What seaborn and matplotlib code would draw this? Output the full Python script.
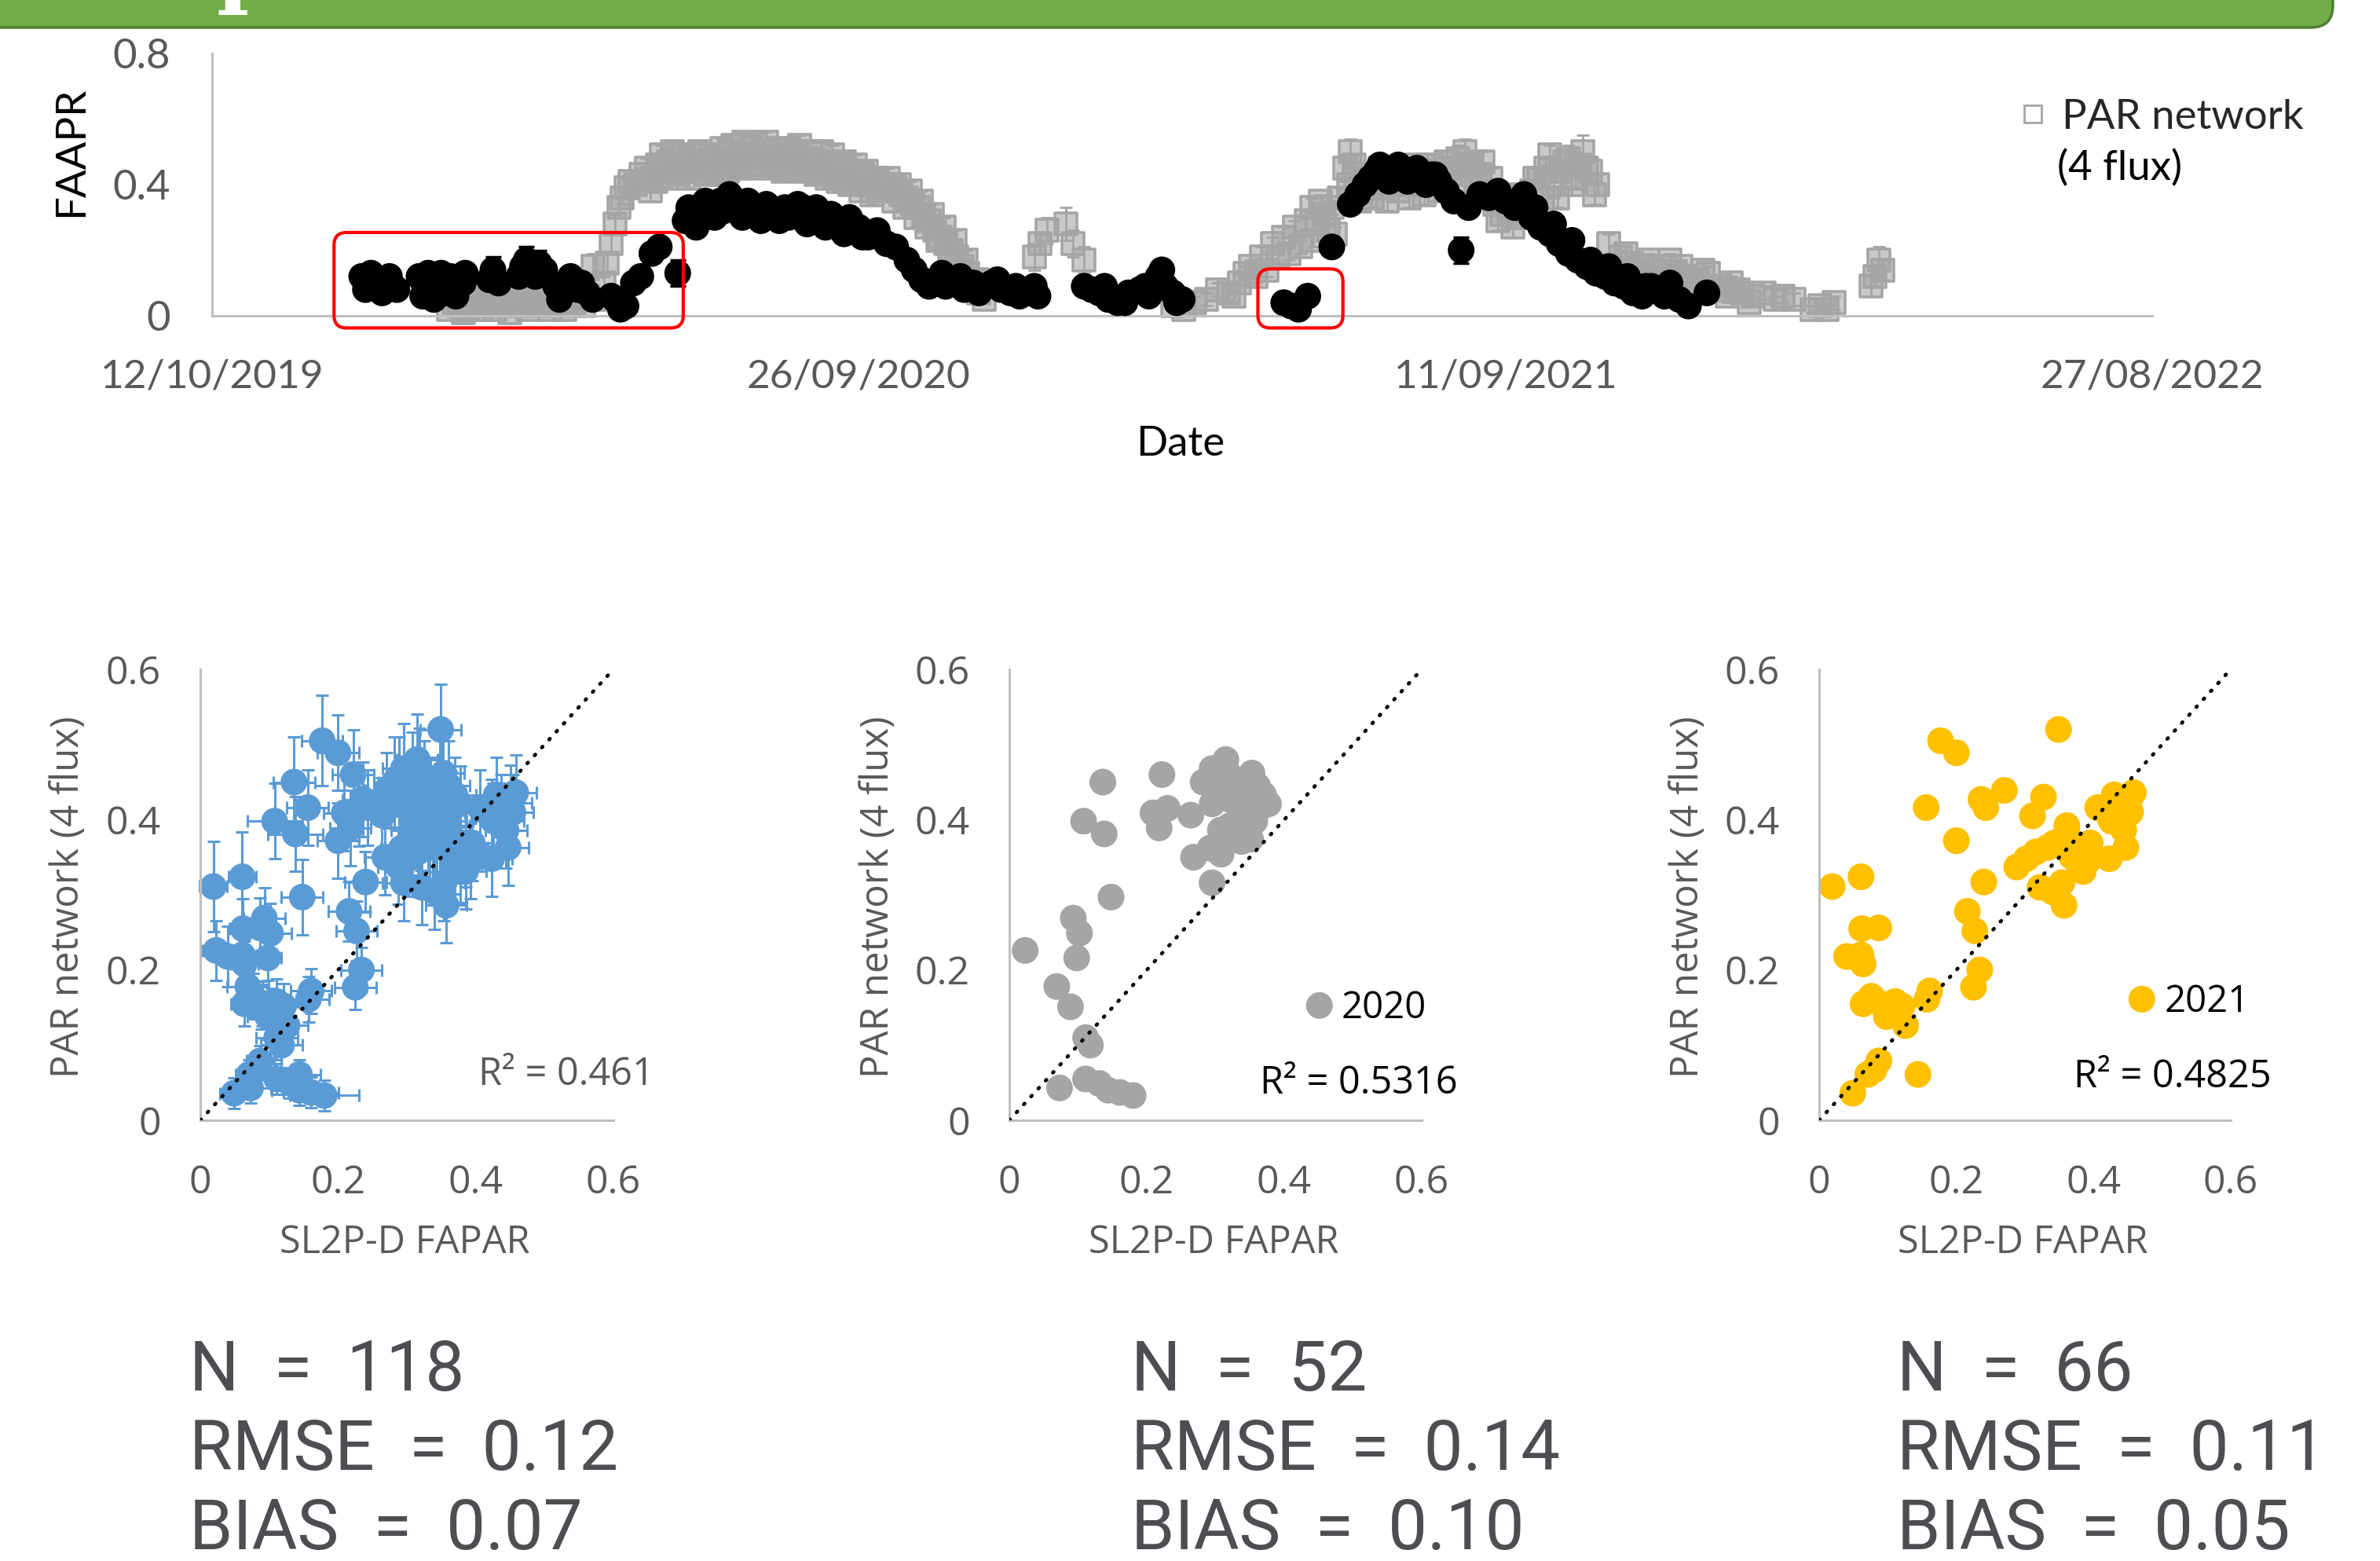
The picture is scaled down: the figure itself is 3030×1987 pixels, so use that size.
import numpy as np
import pandas as pd
import matplotlib
matplotlib.use("Agg")
import matplotlib.pyplot as plt
import matplotlib.dates as mdates
from matplotlib.patches import FancyBboxPatch
from matplotlib.transforms import IdentityTransform
from matplotlib.lines import Line2D
from matplotlib.colors import to_rgba
import seaborn as sns

# ---------------------------------------------------------------- data
START = "2019-10-12"

# PAR network (4 flux) time series: days since START, FAPAR, error
par_days = [128, 133, 138, 143, 148, 153, 158, 163, 168, 173, 178, 183, 188, 193, 198, 203,
            206, 209, 212, 214, 216, 218, 220, 222, 224, 226, 229, 232, 235,
            238, 241, 244, 247, 250, 253, 256, 259, 262, 265, 268, 271, 274, 277, 280, 283, 286,
            289, 292, 295, 298, 301, 304, 307, 310, 313, 316, 319, 322, 325, 328, 331, 334, 337,
            340, 343, 346, 349, 352, 355, 358, 361,
            364, 367, 370, 373, 376, 379, 382, 385, 388, 391, 394, 397, 400, 403, 406, 409, 412, 415, 418,
            445, 448, 452, 462, 466, 472,
            520, 526, 532, 538, 544, 550, 556, 562, 565, 568, 574, 577, 580, 586, 589, 592, 595, 598, 602, 604, 606, 610,
            613, 616, 619, 622, 626, 630, 634, 638, 642, 646, 650, 654, 658, 662, 666, 670, 674, 678,
            682, 686, 690, 694, 698, 702, 706, 710, 714, 718, 722, 726, 730, 734, 738, 742, 746, 750,
            756, 762, 768, 774, 780, 786, 792, 798, 804, 810, 816, 820, 822, 826, 828, 832, 834, 840, 846, 850, 856,
            866, 870, 874, 878, 898, 900, 902, 904,
            131, 136, 141, 146, 151, 156, 161, 166, 171, 176, 181, 186, 191, 196, 201,
            237, 240, 243, 246, 249, 252, 255, 258, 261, 264, 267, 270,
            273, 276, 279, 282, 285, 288, 291, 294, 297, 300, 303, 306,
            309, 312, 315, 318, 321, 324, 327, 330, 333, 336, 339, 342,
            345, 348, 351, 354, 357, 360,
            366, 369, 372, 375, 378, 381, 384, 387, 390, 393, 396, 399, 402, 405, 408, 411, 414,
            553, 559, 571, 583, 596, 600, 608,
            615, 618, 621, 624, 628, 632, 636, 640, 644, 648, 652, 656, 660, 664, 668, 672, 676, 680,
            684, 688, 692, 696, 700, 704, 708, 712, 716, 720, 724, 728, 732, 736, 740, 744, 748,
            759, 765, 771, 777, 783, 789, 795, 801, 807, 813]
par_vals = [0.02, 0.03, 0.02, 0.04, 0.03, 0.02, 0.04, 0.03, 0.05, 0.03, 0.04, 0.02, 0.04, 0.03, 0.05, 0.06,
            0.15, 0.05, 0.10, 0.16, 0.22, 0.28, 0.33, 0.36, 0.39, 0.41, 0.40, 0.43, 0.45,
            0.42, 0.46, 0.44, 0.47, 0.45, 0.48, 0.44, 0.46, 0.49, 0.45, 0.47, 0.44, 0.48, 0.46, 0.50, 0.47, 0.45,
            0.49, 0.51, 0.48, 0.46, 0.50, 0.48, 0.45, 0.49, 0.47, 0.50, 0.46, 0.48, 0.45, 0.47, 0.44, 0.46, 0.43,
            0.45, 0.42, 0.44, 0.41, 0.43, 0.40, 0.41, 0.38,
            0.40, 0.38, 0.39, 0.37, 0.36, 0.34, 0.33, 0.31, 0.29, 0.26, 0.24, 0.22, 0.20, 0.18, 0.15, 0.13, 0.10, 0.07, 0.05,
            0.18, 0.22, 0.26, 0.28, 0.22, 0.17,
            0.03, 0.02, 0.04, 0.05, 0.08, 0.07, 0.10, 0.15, 0.12, 0.18, 0.22, 0.18, 0.24, 0.27, 0.21, 0.29, 0.33, 0.28, 0.31, 0.26, 0.33, 0.36,
            0.45, 0.50, 0.42, 0.38, 0.40, 0.42, 0.39, 0.41, 0.38, 0.40, 0.43, 0.40, 0.42, 0.44, 0.41, 0.45, 0.48, 0.50,
            0.46, 0.43, 0.38, 0.34, 0.31, 0.33, 0.30, 0.34, 0.38, 0.42, 0.45, 0.40, 0.44, 0.48, 0.42, 0.50, 0.44, 0.40,
            0.22, 0.18, 0.16, 0.15, 0.14, 0.15, 0.13, 0.12, 0.11, 0.13, 0.09, 0.06, 0.10, 0.08, 0.07, 0.04, 0.06, 0.07, 0.05, 0.06, 0.05,
            0.02, 0.03, 0.02, 0.04, 0.09, 0.12, 0.17, 0.14,
            0.04, 0.01, 0.05, 0.02, 0.04, 0.05, 0.01, 0.04, 0.02, 0.05, 0.03, 0.05, 0.02, 0.04, 0.03,
            0.38, 0.41, 0.49, 0.42, 0.50, 0.43, 0.49, 0.42, 0.45, 0.50, 0.43, 0.49,
            0.43, 0.51, 0.44, 0.52, 0.45, 0.53, 0.46, 0.52, 0.45, 0.53, 0.46, 0.51,
            0.44, 0.51, 0.45, 0.52, 0.44, 0.50, 0.43, 0.50, 0.42, 0.49, 0.41, 0.47,
            0.40, 0.46, 0.38, 0.44, 0.37, 0.42,
            0.42, 0.35, 0.40, 0.33, 0.38, 0.30, 0.35, 0.27, 0.31, 0.23, 0.27, 0.19, 0.23, 0.14, 0.17, 0.08, 0.11,
            0.06, 0.13, 0.14, 0.19, 0.23, 0.35, 0.25,
            0.40, 0.46, 0.35, 0.43, 0.36, 0.45, 0.35, 0.44, 0.42, 0.36, 0.46, 0.37, 0.46, 0.38, 0.47, 0.40, 0.43, 0.46,
            0.40, 0.47, 0.42, 0.29, 0.36, 0.27, 0.37, 0.30, 0.42, 0.36, 0.49, 0.36, 0.47, 0.40, 0.46, 0.45, 0.37,
            0.13, 0.19, 0.13, 0.17, 0.12, 0.17, 0.15, 0.10, 0.14, 0.08]
par_err = [0.01, 0.01, 0.01, 0.02, 0.01, 0.01, 0.01, 0.02, 0.02, 0.01, 0.02, 0.01, 0.01, 0.02, 0.02, 0.01,
           0.04, 0.02, 0.02, 0.03, 0.03, 0.03, 0.03, 0.02, 0.03, 0.02, 0.03, 0.02, 0.03,
           0.02, 0.03, 0.02, 0.04, 0.02, 0.03, 0.02, 0.03, 0.02, 0.03, 0.02, 0.04, 0.02, 0.03, 0.03, 0.02, 0.03,
           0.02, 0.04, 0.02, 0.03, 0.02, 0.03, 0.02, 0.03, 0.02, 0.03, 0.02, 0.03, 0.02, 0.04, 0.02, 0.03, 0.02,
           0.03, 0.02, 0.04, 0.02, 0.03, 0.02, 0.03, 0.02,
           0.03, 0.02, 0.03, 0.02, 0.03, 0.02, 0.03, 0.02, 0.03, 0.02, 0.03, 0.02, 0.03, 0.02, 0.02, 0.02, 0.02, 0.02, 0.01,
           0.04, 0.03, 0.04, 0.05, 0.04, 0.04,
           0.01, 0.01, 0.02, 0.02, 0.02, 0.02, 0.03, 0.02, 0.02, 0.03, 0.02, 0.02, 0.03, 0.02, 0.02, 0.03, 0.03, 0.02, 0.03, 0.02, 0.02, 0.03,
           0.04, 0.04, 0.03, 0.02, 0.03, 0.02, 0.03, 0.02, 0.03, 0.02, 0.03, 0.02, 0.03, 0.02, 0.03, 0.03, 0.04, 0.04,
           0.03, 0.03, 0.03, 0.02, 0.03, 0.02, 0.03, 0.02, 0.03, 0.03, 0.03, 0.04, 0.03, 0.04, 0.03, 0.05, 0.04, 0.03,
           0.03, 0.02, 0.02, 0.02, 0.02, 0.02, 0.02, 0.02, 0.02, 0.02, 0.02, 0.02, 0.02, 0.02, 0.02, 0.01, 0.02, 0.02, 0.01, 0.02, 0.02,
           0.01, 0.01, 0.01, 0.02, 0.03, 0.03, 0.04, 0.03,
           0.01, 0.01, 0.01, 0.01, 0.01, 0.01, 0.01, 0.01, 0.01, 0.01, 0.01, 0.01, 0.01, 0.01, 0.01,
           0.03, 0.03, 0.03, 0.03, 0.03, 0.03, 0.03, 0.03, 0.03, 0.03, 0.03, 0.03,
           0.03, 0.03, 0.03, 0.03, 0.03, 0.03, 0.03, 0.03, 0.03, 0.03, 0.03, 0.03,
           0.03, 0.03, 0.03, 0.03, 0.03, 0.03, 0.03, 0.03, 0.03, 0.03, 0.03, 0.03,
           0.03, 0.03, 0.03, 0.03, 0.03, 0.03,
           0.03, 0.03, 0.03, 0.03, 0.03, 0.03, 0.03, 0.03, 0.03, 0.03, 0.03, 0.03, 0.03, 0.03, 0.03, 0.03, 0.03,
           0.02, 0.02, 0.02, 0.02, 0.02, 0.02, 0.02,
           0.03, 0.03, 0.03, 0.03, 0.03, 0.03, 0.03, 0.03, 0.03, 0.03, 0.03, 0.03, 0.03, 0.03, 0.03, 0.03, 0.03, 0.03,
           0.03, 0.03, 0.03, 0.03, 0.03, 0.03, 0.03, 0.03, 0.03, 0.03, 0.03, 0.03, 0.03, 0.03, 0.03, 0.03, 0.03,
           0.02, 0.02, 0.02, 0.02, 0.02, 0.02, 0.02, 0.02, 0.02, 0.02]

# SL2P-D time series: days since START, FAPAR, error
sl2p_days = [81, 84, 87, 90, 94, 98,
             112, 115, 118, 121, 124, 127, 130, 134, 137,
             152, 155, 168, 172, 177, 186, 190, 194, 198, 203,
             218, 221, 228, 238, 242, 252,
             256, 260, 265, 270, 275, 280, 285, 290, 295, 300,
             305, 310, 315, 320, 325, 330, 335, 340, 345, 350,
             355, 360, 365, 370, 376, 380, 384, 388, 392, 397,
             402, 407, 412, 417, 422, 427, 432, 437, 442, 447,
             472, 476, 480, 485, 490, 496, 502, 507, 512, 516,
             520, 525, 580, 584, 588, 593,
             606, 616, 620, 624, 630, 635, 640, 645, 650, 655,
             660, 664, 668, 672, 676, 680, 686, 691, 696, 700,
             705, 710, 714, 719, 724, 729, 734, 739, 744, 749,
             754, 759, 764, 769, 774, 779, 784, 789, 794, 799,
             809,
             83, 86, 92, 96, 100, 114, 117, 120, 126, 129, 132, 136,
             150, 166, 170, 175, 180, 188, 192, 200, 206, 216, 224, 232,
             258, 262, 267, 272, 277, 282, 287, 292, 297, 302,
             307, 312, 317, 322, 327, 332, 337, 342, 347, 352,
             395, 405, 415, 425, 435, 445, 483, 494, 505, 514, 522,
             627, 632, 637, 642, 647, 652, 657, 662,
             716, 726, 736, 746, 756, 766, 776, 786]
sl2p_vals = [0.12, 0.11, 0.10, 0.09, 0.10, 0.09,
             0.12, 0.09, 0.07, 0.11, 0.13, 0.10, 0.09, 0.12, 0.13,
             0.14, 0.10, 0.15, 0.13, 0.16, 0.09, 0.07, 0.12, 0.08, 0.07,
             0.05, 0.02, 0.10, 0.19, 0.21, 0.13,
             0.29, 0.31, 0.30, 0.34, 0.35, 0.37, 0.34, 0.35, 0.33, 0.34,
             0.32, 0.33, 0.31, 0.33, 0.30, 0.29, 0.31, 0.28, 0.30, 0.27,
             0.24, 0.26, 0.22, 0.21, 0.17, 0.14, 0.11, 0.09, 0.10, 0.09,
             0.11, 0.08, 0.10, 0.09, 0.10, 0.08, 0.07, 0.06, 0.07, 0.06,
             0.09, 0.08, 0.07, 0.05, 0.04, 0.07, 0.08, 0.06, 0.12, 0.09,
             0.07, 0.05, 0.04, 0.03, 0.02, 0.06,
             0.21, 0.34, 0.37, 0.40, 0.44, 0.45, 0.44, 0.43, 0.44, 0.42,
             0.43, 0.41, 0.38, 0.35, 0.20, 0.33, 0.37, 0.36, 0.38, 0.35,
             0.33, 0.37, 0.30, 0.27, 0.25, 0.22, 0.19, 0.17, 0.15, 0.13,
             0.12, 0.10, 0.09, 0.07, 0.06, 0.09, 0.08, 0.10, 0.05, 0.03,
             0.07,
             0.08, 0.13, 0.07, 0.12, 0.08, 0.06, 0.13, 0.05, 0.07, 0.12, 0.06, 0.10,
             0.11, 0.12, 0.17, 0.12, 0.14, 0.05, 0.10, 0.10, 0.05, 0.06, 0.03, 0.12,
             0.33, 0.27, 0.35, 0.30, 0.32, 0.34, 0.30, 0.32, 0.29, 0.31,
             0.29, 0.30, 0.34, 0.28, 0.33, 0.27, 0.28, 0.25, 0.27, 0.24,
             0.13, 0.12, 0.07, 0.11, 0.09, 0.09, 0.09, 0.04, 0.09, 0.14, 0.04,
             0.42, 0.46, 0.41, 0.46, 0.41, 0.45, 0.40, 0.43,
             0.33, 0.28, 0.23, 0.17, 0.15, 0.12, 0.09, 0.06]
sl2p_err = [0.02, 0.02, 0.02, 0.02, 0.02, 0.02,
            0.02, 0.02, 0.02, 0.02, 0.02, 0.02, 0.02, 0.02, 0.02,
            0.04, 0.02, 0.03, 0.02, 0.04, 0.02, 0.02, 0.03, 0.02, 0.02,
            0.02, 0.02, 0.02, 0.02, 0.02, 0.04,
            0.02, 0.02, 0.02, 0.02, 0.02, 0.02, 0.02, 0.02, 0.02, 0.02,
            0.02, 0.02, 0.02, 0.02, 0.02, 0.02, 0.02, 0.02, 0.02, 0.02,
            0.02, 0.02, 0.02, 0.02, 0.02, 0.02, 0.02, 0.02, 0.02, 0.02,
            0.02, 0.02, 0.02, 0.02, 0.02, 0.02, 0.02, 0.02, 0.02, 0.02,
            0.02, 0.02, 0.02, 0.02, 0.02, 0.02, 0.02, 0.02, 0.03, 0.02,
            0.02, 0.02, 0.02, 0.02, 0.02, 0.02,
            0.02, 0.02, 0.02, 0.02, 0.02, 0.02, 0.02, 0.02, 0.02, 0.02,
            0.02, 0.02, 0.02, 0.02, 0.04, 0.02, 0.02, 0.02, 0.03, 0.02,
            0.02, 0.03, 0.02, 0.02, 0.02, 0.02, 0.02, 0.02, 0.02, 0.02,
            0.02, 0.02, 0.02, 0.02, 0.02, 0.02, 0.02, 0.02, 0.02, 0.02,
            0.02,
            0.02, 0.02, 0.02, 0.02, 0.02, 0.02, 0.02, 0.02, 0.02, 0.02, 0.02, 0.02,
            0.02, 0.02, 0.04, 0.02, 0.02, 0.02, 0.02, 0.02, 0.02, 0.02, 0.02, 0.02,
            0.02, 0.02, 0.02, 0.02, 0.02, 0.02, 0.02, 0.02, 0.02, 0.02,
            0.02, 0.02, 0.02, 0.02, 0.02, 0.02, 0.02, 0.02, 0.02, 0.02,
            0.02, 0.02, 0.02, 0.02, 0.02, 0.02, 0.02, 0.02, 0.02, 0.03, 0.02,
            0.02, 0.02, 0.02, 0.02, 0.02, 0.02, 0.02, 0.02,
            0.02, 0.02, 0.02, 0.02, 0.02, 0.02, 0.02, 0.02]

top_tick_dates = ["2019-10-12", "2020-09-26", "2021-09-11", "2022-08-27"]
top_tick_labels = ["12/10/2019", "26/09/2020", "11/09/2021", "27/08/2022"]
top_y_ticks = [0, 0.4, 0.8]
top_y_labels = ["0", "0.4", "0.8"]

# highlighted periods (red boxes): start date, end date, low, high
box_starts = ["2019-12-17", "2021-04-30"]
box_ends = ["2020-06-23", "2021-06-15"]
box_lows = [-0.037, -0.037]
box_highs = [0.254, 0.143]

# Scatter: SL2P-D FAPAR vs PAR network, 2020
fapar_2020 = [0.023, 0.069, 0.089, 0.093, 0.102, 0.098, 0.108, 0.138, 0.136, 0.148,
              0.111, 0.118, 0.073, 0.111, 0.131, 0.144, 0.161, 0.180, 0.222, 0.209,
              0.230, 0.218, 0.264, 0.268, 0.295, 0.292, 0.308, 0.307, 0.321, 0.338,
              0.351, 0.289, 0.295, 0.315, 0.308, 0.325, 0.334, 0.353, 0.361, 0.370,
              0.377, 0.354, 0.321, 0.302, 0.282, 0.341, 0.364, 0.318, 0.348, 0.295,
              0.357, 0.331]
par_2020 = [0.226, 0.178, 0.151, 0.269, 0.249, 0.216, 0.398, 0.381, 0.450, 0.297,
            0.110, 0.100, 0.043, 0.055, 0.049, 0.040, 0.037, 0.033, 0.460, 0.409,
            0.415, 0.389, 0.406, 0.350, 0.316, 0.362, 0.354, 0.386, 0.392, 0.371,
            0.374, 0.450, 0.468, 0.480, 0.456, 0.445, 0.433, 0.462, 0.445, 0.433,
            0.421, 0.409, 0.427, 0.433, 0.450, 0.415, 0.415, 0.462, 0.450, 0.421,
            0.398, 0.380]
yerr_2020 = [0.04, 0.03, 0.03, 0.04, 0.04, 0.03, 0.05, 0.05, 0.06, 0.05,
             0.03, 0.03, 0.02, 0.02, 0.02, 0.02, 0.02, 0.02, 0.06, 0.05,
             0.05, 0.05, 0.05, 0.05, 0.05, 0.05, 0.05, 0.06, 0.06, 0.05,
             0.05, 0.06, 0.06, 0.06, 0.06, 0.06, 0.05, 0.06, 0.06, 0.05,
             0.05, 0.05, 0.05, 0.05, 0.06, 0.05, 0.05, 0.06, 0.06, 0.05,
             0.05, 0.05]
xerr_2020 = [0.02, 0.03, 0.02, 0.03, 0.03, 0.02, 0.04, 0.04, 0.03, 0.03,
             0.03, 0.03, 0.03, 0.03, 0.03, 0.04, 0.04, 0.05, 0.03, 0.03,
             0.03, 0.03, 0.03, 0.03, 0.03, 0.03, 0.03, 0.03, 0.03, 0.03,
             0.03, 0.03, 0.03, 0.03, 0.03, 0.03, 0.03, 0.03, 0.03, 0.03,
             0.03, 0.03, 0.03, 0.03, 0.03, 0.03, 0.03, 0.03, 0.03, 0.03,
             0.03, 0.03]

# Scatter: 2021
fapar_2021 = [0.019, 0.061, 0.062, 0.087, 0.040, 0.061, 0.064, 0.064, 0.076, 0.090,
              0.104, 0.098, 0.111, 0.121, 0.126, 0.049, 0.071, 0.080, 0.087, 0.144,
              0.157, 0.161, 0.156, 0.177, 0.200, 0.200, 0.216, 0.227, 0.234, 0.225,
              0.236, 0.243, 0.240, 0.270, 0.288, 0.302, 0.311, 0.316, 0.327, 0.322,
              0.333, 0.343, 0.349, 0.357, 0.354, 0.361, 0.361, 0.368, 0.378, 0.385,
              0.395, 0.392, 0.406, 0.423, 0.426, 0.430, 0.437, 0.444, 0.447, 0.451,
              0.458, 0.440, 0.340, 0.385, 0.423, 0.454]
par_2021 = [0.311, 0.324, 0.255, 0.256, 0.218, 0.220, 0.208, 0.155, 0.165, 0.155,
            0.146, 0.138, 0.158, 0.152, 0.126, 0.036, 0.061, 0.067, 0.079, 0.061,
            0.161, 0.172, 0.416, 0.505, 0.489, 0.372, 0.278, 0.252, 0.200, 0.177,
            0.427, 0.416, 0.317, 0.439, 0.337, 0.348, 0.405, 0.357, 0.430, 0.310,
            0.363, 0.369, 0.520, 0.286, 0.316, 0.386, 0.392, 0.351, 0.340, 0.331,
            0.369, 0.345, 0.416, 0.348, 0.398, 0.433, 0.410, 0.386, 0.363, 0.422,
            0.436, 0.398, 0.304, 0.360, 0.404, 0.410]
yerr_2021 = [0.06, 0.06, 0.04, 0.04, 0.04, 0.04, 0.03, 0.03, 0.03, 0.03,
             0.03, 0.03, 0.03, 0.03, 0.03, 0.02, 0.02, 0.02, 0.02, 0.02,
             0.03, 0.03, 0.05, 0.06, 0.05, 0.05, 0.04, 0.04, 0.03, 0.03,
             0.05, 0.05, 0.04, 0.05, 0.05, 0.05, 0.05, 0.05, 0.05, 0.05,
             0.05, 0.05, 0.06, 0.05, 0.05, 0.05, 0.05, 0.05, 0.05, 0.05,
             0.05, 0.05, 0.05, 0.05, 0.05, 0.05, 0.05, 0.05, 0.05, 0.05,
             0.05, 0.05, 0.05, 0.05, 0.05, 0.05]
xerr_2021 = [0.02, 0.02, 0.02, 0.02, 0.02, 0.02, 0.02, 0.02, 0.02, 0.03,
             0.03, 0.03, 0.03, 0.03, 0.03, 0.02, 0.02, 0.02, 0.02, 0.03,
             0.03, 0.03, 0.03, 0.03, 0.03, 0.03, 0.03, 0.03, 0.03, 0.03,
             0.03, 0.03, 0.03, 0.03, 0.03, 0.03, 0.03, 0.03, 0.03, 0.03,
             0.03, 0.03, 0.03, 0.03, 0.03, 0.03, 0.03, 0.03, 0.03, 0.03,
             0.03, 0.03, 0.03, 0.03, 0.03, 0.03, 0.03, 0.03, 0.03, 0.03,
             0.03, 0.03, 0.03, 0.03, 0.03, 0.03]

scatter_ticks = [0, 0.2, 0.4, 0.6]
scatter_tick_labels = ["0", "0.2", "0.4", "0.6"]
r2_labels = ["R² = 0.461", "R² = 0.5316", "R² = 0.4825"]
year_labels = [None, "2020", "2021"]
stat_n = ["N  =  118", "N  =  52", "N  =  66"]
stat_rmse = ["RMSE  =  0.12", "RMSE  =  0.14", "RMSE  =  0.11"]
stat_bias = ["BIAS  =  0.07", "BIAS  =  0.10", "BIAS  =  0.05"]

# ---------------------------------------------------------------- style
sns.set_style("white")
plt.rcParams["font.family"] = ["Open Sans", "DejaVu Sans"]

W, H, DPI = 3030, 1987, 100
fig = plt.figure(figsize=(W / DPI, H / DPI), dpi=DPI)

GREY = "#A5A5A5"
BLUE = "#5B9BD5"
GOLD = "#FFC000"
TXT = "#595959"
SPINE = "#BFBFBF"


def px_axes(left, top, right, bottom):
    return fig.add_axes([left / W, 1 - bottom / H, (right - left) / W, (bottom - top) / H])


# green banner
banner = FancyBboxPatch((-100, H - 35), 3070, 300,
                        boxstyle="round,pad=0,rounding_size=28",
                        transform=IdentityTransform(), fc="#70AD47", ec="#507E32", lw=2.5, zorder=1)
fig.add_artist(banner)
fig.text(276 / W, 1 + 4 / H, "p", family="DejaVu Serif", fontweight="bold", fontsize=80,
         color="white", va="baseline", ha="left", zorder=5)

# ---------------------------------------------------------------- top time series
ax = px_axes(270, 68, 2740, 402)
start = pd.Timestamp(START)
par_df = pd.DataFrame({"date": start + pd.to_timedelta(par_days, unit="D"),
                       "fapar": par_vals, "err": par_err})
sl2p_df = pd.DataFrame({"date": start + pd.to_timedelta(sl2p_days, unit="D"),
                        "fapar": sl2p_vals, "err": sl2p_err})

ax.errorbar(par_df["date"], par_df["fapar"], yerr=par_df["err"], fmt="none", ecolor=GREY,
            elinewidth=2, capsize=6, capthick=2, zorder=1, clip_on=False)
sns.scatterplot(data=par_df, x="date", y="fapar", ax=ax, marker="s", s=420, color=GREY,
                facecolors=[to_rgba(GREY, 0.6)], edgecolor=GREY, linewidth=2.6, zorder=2,
                clip_on=False, legend=False)
ax.errorbar(sl2p_df["date"], sl2p_df["fapar"], yerr=sl2p_df["err"], fmt="none", ecolor="black",
            elinewidth=2.2, capsize=7, capthick=2.5, zorder=3, clip_on=False)
sns.scatterplot(data=sl2p_df, x="date", y="fapar", ax=ax, marker="o", s=600, color="black",
                edgecolor="none", linewidth=0, zorder=4, clip_on=False, legend=False)

ax.set_xlim(pd.Timestamp(top_tick_dates[0]), pd.Timestamp(top_tick_dates[-1]))
ax.set_ylim(0, 0.8)
ax.set_xticks([pd.Timestamp(d) for d in top_tick_dates])
ax.set_xticklabels(top_tick_labels, fontfamily="Lato", fontsize=37, color=TXT)
ax.set_yticks(top_y_ticks)
ax.set_yticklabels(top_y_labels, fontfamily="Lato", fontsize=38, color=TXT)
ax.tick_params(axis="x", length=0, pad=39)
ax.tick_params(axis="y", length=0, pad=38)
for s in ["top", "right"]:
    ax.spines[s].set_visible(False)
for s in ["left", "bottom"]:
    ax.spines[s].set_color(SPINE)
    ax.spines[s].set_linewidth(2.2)
ax.set_xlabel("Date", fontfamily="Lato", fontsize=38, color="black")
ax.xaxis.set_label_coords(0.499, -0.49)
ax.xaxis.label.set_va("center")
ax.set_ylabel("FAAPR", fontfamily="Lato", fontsize=38, color="black")
ax.yaxis.set_label_coords(-0.0725, 0.626)
ax.yaxis.label.set_va("center")

leg_handle = Line2D([], [], marker="s", ls="none", mfc="none", mec=GREY, mew=2.0, ms=16)
ax.legend([leg_handle], ["PAR network"], loc="center left", bbox_to_anchor=(0.930, 0.757),
          frameon=False, prop={"family": "Lato", "size": 38}, handletextpad=0.3,
          borderaxespad=0, borderpad=0, handlelength=0.8)
ax.text(0.951, 0.562, "(4 flux)", transform=ax.transAxes, fontfamily="Lato", fontsize=38,
        color="black", va="center", ha="left")

# red highlight boxes
for d0, d1, lo, hi in zip(box_starts, box_ends, box_lows, box_highs):
    x0, y0 = ax.transData.transform((mdates.date2num(pd.Timestamp(d0)), lo))
    x1, y1 = ax.transData.transform((mdates.date2num(pd.Timestamp(d1)), hi))
    rect = FancyBboxPatch((x0, y0), x1 - x0, y1 - y0, boxstyle="round,pad=0,rounding_size=16",
                          transform=IdentityTransform(), fill=False, ec="#FF0000", lw=3, zorder=10)
    fig.add_artist(rect)

# ---------------------------------------------------------------- scatter panels
panels = [
    dict(box=(255, 852, 781, 1426), x=fapar_2020 + fapar_2021, y=par_2020 + par_2021,
         xerr=xerr_2020 + xerr_2021, yerr=yerr_2020 + yerr_2021, color=BLUE,
         r2=r2_labels[0], r2_xy=(1.099, 0.101), r2_color=TXT, label=year_labels[0], leg=None),
    dict(box=(1285, 852, 1810, 1426), x=fapar_2020, y=par_2020, xerr=None, yerr=None,
         color=GREY, r2=r2_labels[1], r2_xy=(1.086, 0.081), r2_color="black",
         label=year_labels[1], leg=(0.707, 0.248)),
    dict(box=(2316, 852, 2840, 1426), x=fapar_2021, y=par_2021, xerr=None, yerr=None,
         color=GOLD, r2=r2_labels[2], r2_xy=(1.099, 0.095), r2_color="black",
         label=year_labels[2], leg=(0.739, 0.262)),
]

for p in panels:
    sax = px_axes(*p["box"])
    df = pd.DataFrame({"fapar": p["x"], "par": p["y"]})
    if p["xerr"] is not None:
        sax.errorbar(df["fapar"], df["par"], xerr=p["xerr"], yerr=p["yerr"], fmt="none",
                     ecolor=p["color"], elinewidth=2.2, capsize=6, capthick=2.2, zorder=1,
                     clip_on=False)
    sns.scatterplot(data=df, x="fapar", y="par", ax=sax, color=p["color"], s=600,
                    edgecolor="none", linewidth=0, zorder=2, clip_on=False,
                    label=p["label"], legend=p["label"] is not None)
    sax.plot([scatter_ticks[0], scatter_ticks[-1]], [scatter_ticks[0], scatter_ticks[-1]],
             color="black", lw=3.4, ls=(0, (0.3, 2.6)), dash_capstyle="round", zorder=5)
    sax.set_xlim(0, 0.6)
    sax.set_ylim(0, 0.6)
    sax.set_xticks(scatter_ticks)
    sax.set_xticklabels(scatter_tick_labels, fontsize=36, color=TXT)
    sax.set_yticks(scatter_ticks)
    sax.set_yticklabels(scatter_tick_labels, fontsize=36, color=TXT)
    sax.tick_params(axis="x", length=0, pad=40)
    sax.tick_params(axis="y", length=0, pad=36)
    for s in ["top", "right"]:
        sax.spines[s].set_visible(False)
    for s in ["left", "bottom"]:
        sax.spines[s].set_color(SPINE)
        sax.spines[s].set_linewidth(2.2)
    sax.set_xlabel("SL2P-D FAPAR", fontsize=35, color=TXT)
    sax.xaxis.set_label_coords(0.495, -0.272)
    sax.xaxis.label.set_va("center")
    sax.set_ylabel("PAR network (4 flux)", fontsize=35.5, color=TXT)
    sax.yaxis.set_label_coords(-0.318, 0.495)
    sax.yaxis.label.set_va("center")
    sax.text(p["r2_xy"][0], p["r2_xy"][1], p["r2"], transform=sax.transAxes, fontsize=35,
             color=p["r2_color"], ha="right", va="center")
    if p["leg"] is not None:
        sax.legend(loc="center left", bbox_to_anchor=p["leg"], frameon=False, fontsize=34,
                   handletextpad=0.1, borderaxespad=0, borderpad=0, handlelength=1.0,
                   scatteryoffsets=[0.5], labelcolor="black")

# ---------------------------------------------------------------- stats text
stat_x = [241, 1440, 2415]
for i in range(3):
    for txt, base in zip([stat_n[i], stat_rmse[i], stat_bias[i]], [1770, 1871, 1972]):
        fig.text(stat_x[i] / W, 1 - base / H, txt, fontsize=64, color="#4d4e52",
                 family="Roboto", va="baseline", ha="left")

fig.savefig("out.png", dpi=DPI)
